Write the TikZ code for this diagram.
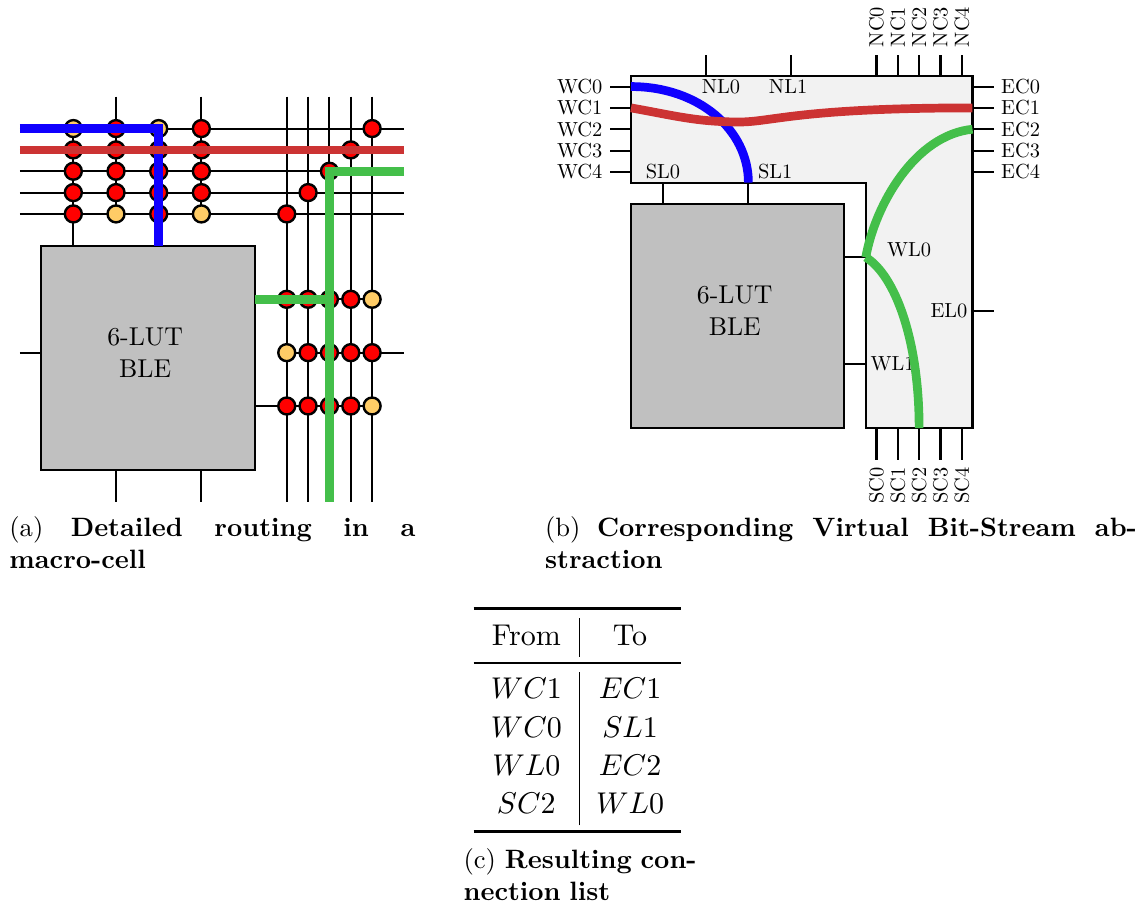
\documentclass[tikz,border=0pt]{standalone}
\usepackage{xcolor}
\usepackage{booktabs}
\usepackage{tikz-network}
\definecolor{pipon}{RGB}{255,0,0}
\definecolor{pipoff}{RGB}{255,204,102}
\definecolor{netblue}{RGB}{16,0,255}
\definecolor{netred}{RGB}{204,51,51}
\definecolor{netgreen}{RGB}{68,191,74}
\definecolor{blegray}{RGB}{192,192,192}
\definecolor{cellgray}{RGB}{242,242,242}
\SetVertexStyle[LineWidth=0.8pt, LineColor=black]
\SetEdgeStyle[LineWidth=0.7pt, Color=black]
\tikzset{
  port/.style={scale=0.68, inner sep=3.4pt},
  ble/.style={draw, line width=0.7pt, fill=blegray, minimum width=2.5cm, minimum height=2.625cm},
  blelabel/.style={scale=0.86, align=center, inner sep=0pt, xshift=-0.04cm, yshift=0.07cm},
  route/.style={line width=2.9pt},
  subcap/.style={scale=0.885, inner sep=0pt, align=justify},
}
\setlength{\heavyrulewidth}{1pt}
\setlength{\lightrulewidth}{0.6pt}
\setlength{\arrayrulewidth}{0.3pt}
\setlength{\tabcolsep}{5.7pt}

\begin{document}
\begin{tikzpicture}
  \useasboundingbox (-0.234,-5.061) rectangle (13.179,5.506);

  % (a) detailed routing
  \node[ble] (lut) at (1.5,1.3125) {};
  \node[blelabel] (lutname) at (lut.center) {6-LUT\\[0.5pt]BLE};
  \foreach \r/\y in {0/4,1/3.75,2/3.5,3/3.25,4/3}{
    \coordinate (wa\r) at (0,\y);
    \coordinate (ea\r) at (4.5,\y);
    \Edge(wa\r)(ea\r)
  }
  \foreach \c/\x in {0/3.125,1/3.375,2/3.625,3/3.875,4/4.125}{
    \coordinate (na\c) at (\x,4.375);
    \coordinate (sa\c) at (\x,-0.375);
    \Edge(na\c)(sa\c)
  }
  \coordinate (tb0) at (0.625,4);
  \coordinate (tb1) at (0.625,2.625);
  \coordinate (tb2) at (1.625,4);
  \coordinate (tb3) at (1.625,2.625);
  \coordinate (tb4) at (1.125,4.375);
  \coordinate (tb5) at (1.125,3);
  \coordinate (tb6) at (2.125,4.375);
  \coordinate (tb7) at (2.125,3);
  \Edge(tb0)(tb1)
  \Edge(tb2)(tb3)
  \Edge(tb4)(tb5)
  \Edge(tb6)(tb7)
  \coordinate (bb0) at (1.125,0);
  \coordinate (bb1) at (1.125,-0.375);
  \coordinate (bb2) at (2.125,0);
  \coordinate (bb3) at (2.125,-0.375);
  \Edge(bb0)(bb1)
  \Edge(bb2)(bb3)
  \coordinate (lb0) at (0,1.375);
  \coordinate (lb1) at (0.25,1.375);
  \Edge(lb0)(lb1)
  \coordinate (rb0) at (2.75,2);
  \coordinate (rb1) at (4.125,2);
  \coordinate (rb2) at (3.125,1.375);
  \coordinate (rb3) at (4.5,1.375);
  \coordinate (rb4) at (2.75,0.75);
  \coordinate (rb5) at (4.125,0.75);
  \Edge(rb0)(rb1)
  \Edge(rb2)(rb3)
  \Edge(rb4)(rb5)

  \foreach \r/\y/\ca/\cb/\cc/\cd in {0/4/pipoff/pipon/pipoff/pipon, 1/3.75/pipon/pipon/pipon/pipon, 2/3.5/pipon/pipon/pipon/pipon, 3/3.25/pipon/pipon/pipon/pipon, 4/3/pipon/pipoff/pipon/pipoff}{
    \Vertex[x=0.625, y=\y, size=0.14, color=\ca]{ta\r}
    \Vertex[x=1.125, y=\y, size=0.14, color=\cb]{tb\r x}
    \Vertex[x=1.625, y=\y, size=0.14, color=\cc]{tc\r}
    \Vertex[x=2.125, y=\y, size=0.14, color=\cd]{td\r}
  }
  \Vertex[x=4.125, y=4, size=0.14, color=pipon]{xe0}
  \Vertex[x=3.875, y=3.75, size=0.14, color=pipon]{xe1}
  \Vertex[x=3.625, y=3.5, size=0.14, color=pipon]{xe2}
  \Vertex[x=3.375, y=3.25, size=0.14, color=pipon]{xe3}
  \Vertex[x=3.125, y=3, size=0.14, color=pipon]{xe4}
  \foreach \r/\y/\ca/\cb/\cc/\cd/\ce in {0/2/pipon/pipon/pipon/pipon/pipoff, 1/1.375/pipoff/pipon/pipon/pipon/pipon, 2/0.75/pipon/pipon/pipon/pipon/pipoff}{
    \Vertex[x=3.125, y=\y, size=0.14, color=\ca]{ra\r}
    \Vertex[x=3.375, y=\y, size=0.14, color=\cb]{rb\r x}
    \Vertex[x=3.625, y=\y, size=0.14, color=\cc]{rc\r}
    \Vertex[x=3.875, y=\y, size=0.14, color=\cd]{rd\r}
    \Vertex[x=4.125, y=\y, size=0.14, color=\ce]{re\r}
  }

  \draw[route, netblue] (wa0) -- (tb2) -- (tb3);
  \draw[route, netred] (wa1) -- (ea1);
  \coordinate (gc0) at (3.625,3.5);
  \coordinate (gc1) at (3.625,2);
  \draw[route, netgreen] (ea2) -- (gc0) -- (sa2);
  \draw[route, netgreen] (rb0) -- (gc1);

  \node[subcap, anchor=north west, text width=152.9pt] (capa) at (-0.13,-0.535) {(a) \textbf{Detailed routing in a macro-cell}};

  % (b) virtual bit-stream
  \begin{scope}[shift={(7.158,0.492)}]
    \draw[line width=0.7pt, fill=cellgray] (0,2.875) -- (0,4.125) -- (4,4.125) -- (4,0) -- (2.75,0) -- (2.75,2.875) -- cycle;
    \node[ble] (vlut) at (1.25,1.3125) {};
    \node[blelabel] (vlutname) at (vlut.center) {6-LUT\\[0.5pt]BLE};
    \foreach \n/\y in {0/4,1/3.75,2/3.5,3/3.25,4/3}{
      \coordinate (wci\n) at (0,\y);
      \node[port, anchor=east] (wc\n) at (-0.25,\y) {WC\n};
      \Edge(wci\n)(wc\n.east)
      \coordinate (eci\n) at (4,\y);
      \node[port, anchor=west] (ec\n) at (4.25,\y) {EC\n};
      \Edge(eci\n)(ec\n.west)
    }
    \foreach \n/\x in {0/2.875,1/3.125,2/3.375,3/3.625,4/3.875}{
      \coordinate (nci\n) at (\x,4.125);
      \node[port, rotate=90, anchor=west] (nc\n) at (\x,4.375) {NC\n};
      \Edge(nci\n)(nc\n.west)
      \coordinate (sci\n) at (\x,0);
      \node[port, rotate=90, anchor=east] (sc\n) at (\x,-0.375) {SC\n};
      \Edge(sci\n)(sc\n.east)
    }
    \coordinate (nl0a) at (0.875,4.125);
    \coordinate (nl0b) at (0.875,4.375);
    \coordinate (nl1a) at (1.875,4.125);
    \coordinate (nl1b) at (1.875,4.375);
    \Edge(nl0a)(nl0b)
    \Edge(nl1a)(nl1b)
    \coordinate (sli0) at (0.375,2.875);
    \coordinate (slo0) at (0.375,2.625);
    \coordinate (sli1) at (1.375,2.875);
    \coordinate (slo1) at (1.375,2.625);
    \Edge(sli0)(slo0)
    \Edge(sli1)(slo1)
    \coordinate (wli0) at (2.75,2);
    \coordinate (wlo0) at (2.5,2);
    \coordinate (wli1) at (2.75,0.75);
    \coordinate (wlo1) at (2.5,0.75);
    \Edge(wli0)(wlo0)
    \Edge(wli1)(wlo1)
    \coordinate (eli0) at (4,1.375);
    \coordinate (elo0) at (4.25,1.375);
    \Edge(eli0)(elo0)

    \node[port] (nl0) at (1.054,4) {NL0};
    \node[port] (nl1) at (1.84,4) {NL1};
    \node[port] (sl0) at (0.375,3) {SL0};
    \node[port] (sl1) at (1.69,3) {SL1};
    \node[port] (wl0) at (3.257,2.085) {WL0};
    \node[port] (wl1) at (3.064,0.75) {WL1};
    \node[port] (el0) at (3.725,1.375) {EL0};

    \coordinate (rdip) at (1.27,3.585);
    \draw[route, netblue] (wci0) to[out=0, in=90, out looseness=1.15, in looseness=0.88] (sli1);
    \draw[route, netred] (wci1) to[out=-10, in=180] (rdip) .. controls (1.65,3.585) and (1.98,3.75) .. (eci1);
    \draw[route, netgreen] (wli0) .. controls (2.858,2.612) and (3.327,3.433) .. (eci2);
    \draw[route, netgreen] (wli0) .. controls (3.093,1.79) and (3.375,1.03) .. (sci2);

    \node[subcap, anchor=north west, text width=222.9pt] (capb) at (-1.013,-1.035) {(b) \textbf{Corresponding Virtual Bit-Stream abstraction}};
  \end{scope}

  % (c) connection list
  \node[inner sep=0pt] (conn) at (6.53,-2.93) {%
    \renewcommand{\arraystretch}{1.065}%
    \begin{tabular}{c|c}
      \toprule
      From & To \\
      \midrule
      $WC1$ & $EC1$ \\
      $WC0$ & $SL1$ \\
      $WL0$ & $EC2$ \\
      $SC2$ & $WL0$ \\
      \bottomrule
    \end{tabular}};
  \node[subcap, anchor=north west, align=left, text width=92pt] (capc) at (5.19,-4.425) {(c) \textbf{Resulting con-}\\\textbf{nection list}};
\end{tikzpicture}
\end{document}
